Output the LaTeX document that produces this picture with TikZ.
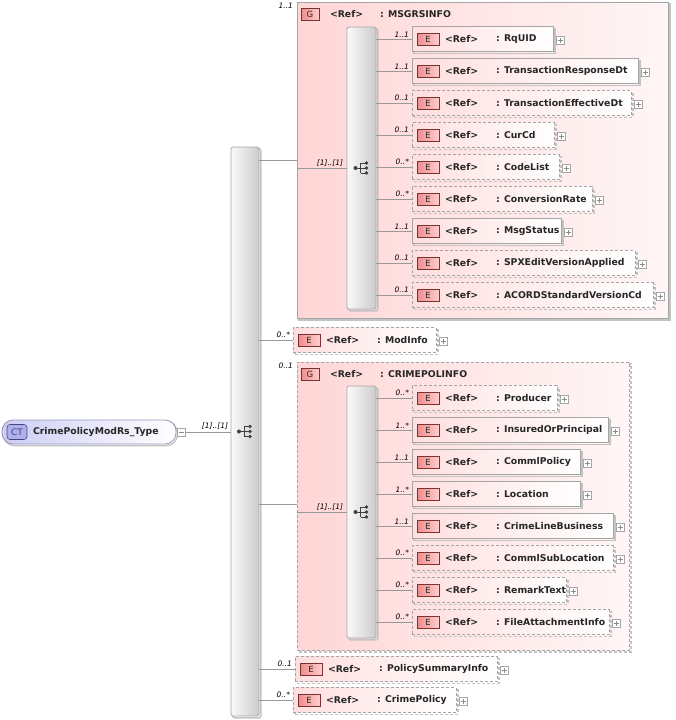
\documentclass[tikz,border=0pt]{standalone}
\usepackage{fontspec}
\setmainfont{DejaVu Sans}
\definecolor{pinkA}{RGB}{255,214,214}
\definecolor{pinkB}{RGB}{255,246,246}
\definecolor{elA}{RGB}{255,222,222}
\definecolor{badgeA}{RGB}{240,140,140}
\definecolor{badgeB}{RGB}{255,205,205}
\definecolor{badgeD}{RGB}{120,50,50}
\definecolor{boxline}{RGB}{165,165,165}
\definecolor{shadowc}{RGB}{195,195,195}
\definecolor{ctA}{RGB}{205,205,245}
\definecolor{ctline}{RGB}{150,150,190}
\definecolor{ctbadge}{RGB}{175,175,235}
\definecolor{ctdark}{RGB}{70,70,130}
\tikzset{
  every node/.style={inner sep=0pt, outer sep=0pt},
  shd/.style={preaction={draw=shadowc, line width=1.6pt, transform canvas={shift={(1.9pt,-1.9pt)}}}},
  shdd/.style={preaction={draw=shadowc, line width=1.6pt, dash pattern=on 3pt off 2pt, transform canvas={shift={(1.9pt,-1.9pt)}}}},
  solidb/.style={draw=boxline, line width=0.8pt, shd},
  dashb/.style={draw=boxline, line width=0.8pt, dash pattern=on 3pt off 2pt, shdd},
  elfill/.style={left color=elA, right color=white},
  grpfill/.style={left color=pinkA, right color=pinkB},
  ebadge/.style={draw=badgeD, line width=0.6pt, left color=badgeA, right color=badgeB, minimum width=22pt, minimum height=12pt, font=\fontsize{8.5}{10}\selectfont, text=black!85},
  gbadge/.style={ebadge, minimum width=18pt},
  reft/.style={font=\fontsize{9.3}{11}\selectfont\bfseries, text=black!85},
  namet/.style={font=\fontsize{9.3}{11}\selectfont\bfseries, text=black!85},
  mult/.style={font=\fontsize{7.5}{9}\selectfont\itshape, text=black},
  plusb/.style={draw=black!35, line width=0.5pt, fill=white, minimum width=8pt, minimum height=8pt,
    path picture={\draw[black!45, line width=0.5pt]
      ([xshift=-2.5pt]path picture bounding box.center) -- ([xshift=2.5pt]path picture bounding box.center)
      ([yshift=-2.5pt]path picture bounding box.center) -- ([yshift=2.5pt]path picture bounding box.center);}},
  minusb/.style={draw=black!35, line width=0.5pt, fill=white, minimum width=8pt, minimum height=8pt,
    path picture={\draw[black!45, line width=0.5pt]
      ([xshift=-2.5pt]path picture bounding box.center) -- ([xshift=2.5pt]path picture bounding box.center);}},
  comp/.style={draw=black!35, line width=0.8pt, rounded corners=1.5pt, left color=black!2, right color=black!20, shd},
  conn/.style={draw=black!40, line width=0.6pt},
  seqic/.style={draw=black!75, line width=0.8pt},
}
\newcommand\seqicon[1]{%
  \draw[seqic] ([xshift=-6pt]#1) -- ([xshift=-1pt]#1)
    ([xshift=-1pt,yshift=5pt]#1) -- ([xshift=-1pt,yshift=-5pt]#1)
    ([xshift=-1pt,yshift=5pt]#1) -- ([xshift=5pt,yshift=5pt]#1)
    ([xshift=-1pt,yshift=-5pt]#1) -- ([xshift=5pt,yshift=-5pt]#1)
    ([xshift=-1pt]#1) -- ([xshift=5pt]#1);
  \fill[black!75] ([xshift=-6pt]#1) circle[radius=2pt]
    ([xshift=5pt,yshift=5pt]#1) circle[radius=1.8pt]
    ([xshift=5pt]#1) circle[radius=1.8pt]
    ([xshift=5pt,yshift=-5pt]#1) circle[radius=1.8pt];}
% #1 id, #2 x-left, #3 y-center, #4 x-right, #5 name, #6 style, #7 multiplicity, #8 parent compositor
\newcommand\elem[8]{%
  \node[#6, elfill, minimum width={#4-#2}, minimum height=25pt, anchor=west] (#1) at (#2,#3) {};
  \node[ebadge, anchor=west] (#1-b) at ([xshift=5pt]#1.west) {E};
  \node[reft, anchor=west] (#1-r) at ([xshift=33pt]#1.west) {<Ref>};
  \node[namet, anchor=west] (#1-n) at ([xshift=84pt]#1.west) {: #5};
  \node[plusb, anchor=west] (#1-p) at ([xshift=3pt,yshift=-1pt]#1.east) {};
  \node[mult, anchor=south east] (#1-m) at ([xshift=-3pt,yshift=2pt]#1.west) {#7};
  \draw[conn] (#8.east |- #1.west) -- (#1.west);}
\begin{document}
\begin{tikzpicture}[x=1pt,y=-1pt]
\useasboundingbox (0,0) rectangle (676,720);
% complex type
\node[draw=ctline, line width=0.8pt, rounded corners=11pt, left color=ctA, right color=white,
  minimum width=174pt, minimum height=24pt, anchor=west,
  preaction={draw=shadowc, line width=1.4pt, rounded corners=11pt, transform canvas={shift={(1.4pt,-1.6pt)}}}] (ct) at (2,432) {};
\node[draw=ctdark, line width=0.6pt, rounded corners=3pt, fill=ctbadge, minimum width=20pt, minimum height=15pt,
  font=\fontsize{9}{10}\selectfont, text=ctdark, anchor=west] (ct-b) at ([xshift=5pt]ct.west) {CT};
\node[namet, anchor=west] (ct-n) at ([xshift=31pt]ct.west) {CrimePolicyModRs\_Type};
\node[minusb, anchor=west] (ct-p) at ([xshift=1.5pt]ct.east) {};
% main sequence
\node[comp, minimum width=28pt, minimum height=569pt, anchor=north west] (c0) at (231,147) {};
\seqicon{c0.center}
\draw[conn] (ct-p.east) -- (c0.west |- ct-p.east);
\node[mult, anchor=south east] (c0-m) at ([xshift=-3pt,yshift=2pt]c0.west) {[1]..[1]};
% group MSGRSINFO
\node[solidb, grpfill, minimum width=371pt, minimum height=316pt, anchor=north west] (g1) at (297,2) {};
\node[gbadge, anchor=west] (g1-b) at ([xshift=4pt,yshift=-12pt]g1.north west) {G};
\node[reft, anchor=west] (g1-r) at ([xshift=33pt,yshift=-12pt]g1.north west) {<Ref>};
\node[namet, anchor=west] (g1-n) at ([xshift=83pt,yshift=-12pt]g1.north west) {: MSGRSINFO};
\node[mult, anchor=north east] (g1-m) at ([xshift=-4pt,yshift=-1pt]g1.north west) {1..1};
\coordinate (g1-in) at (297,160);
\draw[conn] (c0.east |- g1-in) -- (g1-in);
\node[comp, minimum width=29pt, minimum height=282pt, anchor=north west] (c1) at (347,27) {};
\seqicon{c1.center}
\draw[conn] (g1.west |- c1.west) -- (c1.west);
\node[mult, anchor=south east] (c1-m) at ([xshift=-4pt,yshift=2pt]c1.west) {[1]..[1]};
\elem{e1}{412}{39}{553}{RqUID}{solidb}{1..1}{c1}
\elem{e2}{412}{71}{638}{TransactionResponseDt}{solidb}{1..1}{c1}
\elem{e3}{412}{103}{631}{TransactionEffectiveDt}{dashb}{0..1}{c1}
\elem{e4}{412}{135}{554}{CurCd}{dashb}{0..1}{c1}
\elem{e5}{412}{167}{559}{CodeList}{dashb}{0..*}{c1}
\elem{e6}{412}{199}{592}{ConversionRate}{dashb}{0..*}{c1}
\elem{e7}{412}{231}{561}{MsgStatus}{solidb}{1..1}{c1}
\elem{e8}{412}{263}{635}{SPXEditVersionApplied}{dashb}{0..1}{c1}
\elem{e9}{412}{295}{653}{ACORDStandardVersionCd}{dashb}{0..1}{c1}
% ModInfo
\elem{m1}{293}{340}{436}{ModInfo}{dashb}{0..*}{c0}
% group CRIMEPOLINFO
\node[dashb, grpfill, minimum width=332pt, minimum height=288pt, anchor=north west] (g2) at (297,362) {};
\node[gbadge, anchor=west] (g2-b) at ([xshift=4pt,yshift=-12pt]g2.north west) {G};
\node[reft, anchor=west] (g2-r) at ([xshift=33pt,yshift=-12pt]g2.north west) {<Ref>};
\node[namet, anchor=west] (g2-n) at ([xshift=83pt,yshift=-12pt]g2.north west) {: CRIMEPOLINFO};
\node[mult, anchor=north east] (g2-m) at ([xshift=-4pt,yshift=-1pt]g2.north west) {0..1};
\coordinate (g2-in) at (297,504);
\draw[conn] (c0.east |- g2-in) -- (g2-in);
\node[comp, minimum width=29pt, minimum height=252pt, anchor=north west] (c2) at (347,386) {};
\seqicon{c2.center}
\draw[conn] (g2.west |- c2.west) -- (c2.west);
\node[mult, anchor=south east] (c2-m) at ([xshift=-4pt,yshift=2pt]c2.west) {[1]..[1]};
\elem{f1}{412}{398}{557}{Producer}{dashb}{0..*}{c2}
\elem{f2}{412}{430}{608}{InsuredOrPrincipal}{solidb}{1..*}{c2}
\elem{f3}{412}{462}{580}{CommlPolicy}{solidb}{1..1}{c2}
\elem{f4}{412}{494}{580}{Location}{solidb}{1..*}{c2}
\elem{f5}{412}{526}{613}{CrimeLineBusiness}{solidb}{1..1}{c2}
\elem{f6}{412}{558}{613}{CommlSubLocation}{dashb}{0..*}{c2}
\elem{f7}{412}{590}{566}{RemarkText}{dashb}{0..*}{c2}
\elem{f8}{412}{622}{609}{FileAttachmentInfo}{dashb}{0..*}{c2}
% trailing elements
\elem{m2}{295}{669}{497}{PolicySummaryInfo}{dashb}{0..1}{c0}
\elem{m3}{293}{700}{456}{CrimePolicy}{dashb}{0..*}{c0}
\end{tikzpicture}
\end{document}
